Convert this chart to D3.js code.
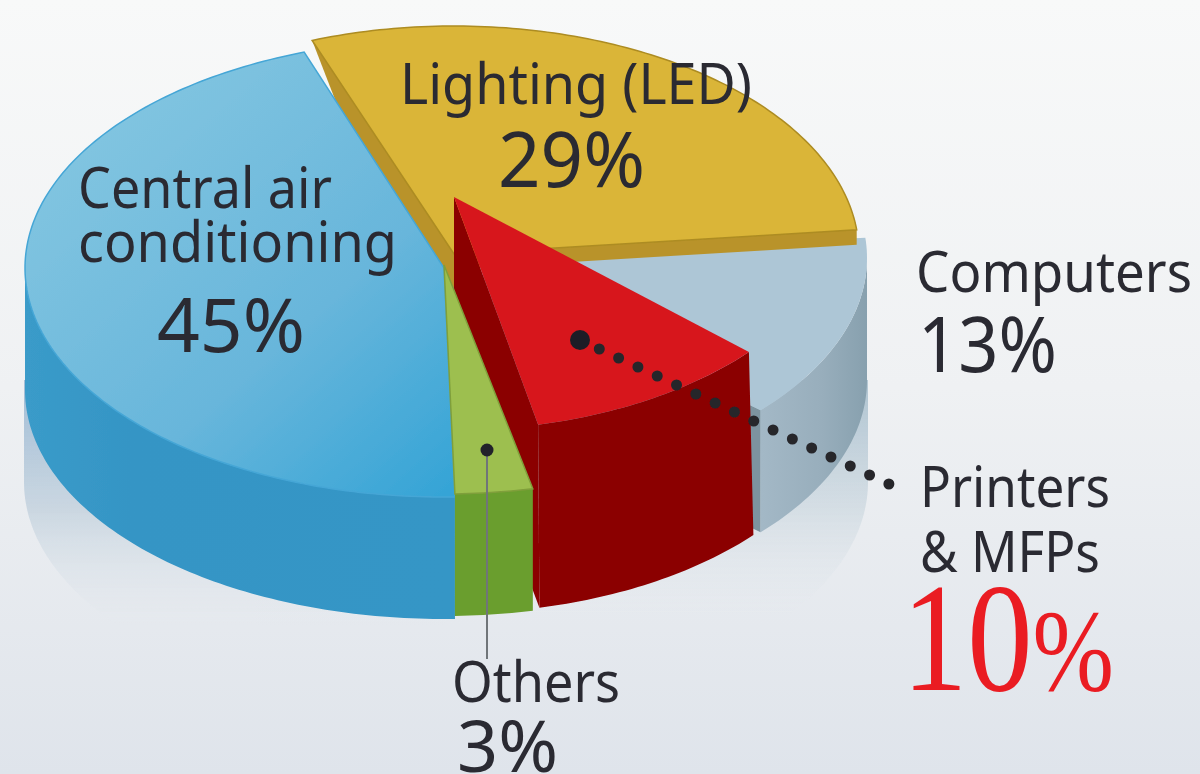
<!DOCTYPE html>
<html>
<head>
<meta charset="utf-8">
<script src="https://cdn.jsdelivr.net/npm/d3@7"></script>
<style>
html, body { margin: 0; padding: 0; background: #eef0f3; overflow: hidden; }
svg { display: block; }
text { font-family: "Noto Sans", sans-serif; fill: #2b2b33; }
</style>
</head>
<body>
<svg id="vis" width="1200" height="774"></svg>
<script>
// values, clockwise from the cut at the back
var categories = ['Lighting (LED)', 'Computers', 'Printers & MFPs', 'Others', 'Central air conditioning'];
var shares = [29, 13, 10, 3, 45];
var labelLines = [['Lighting (LED)'], ['Computers'], ['Printers', '& MFPs'], ['Others'], ['Central air', 'conditioning']];

var width = 1200, height = 774;
var startDeg = -19.5;

// each wedge was pulled about by hand in the original, so each one has its own ellipse
var wedges = {
    'Lighting (LED)':           {cx: 454, cy: 254, rx: 405, ry: 228, h: 15,  rot: -1,  top: '#dab537', wall: '#b9932b', edge: '#ad8c22'},
    'Computers':                {cx: 447, cy: 258, rx: 420, ry: 229, h: 122, rot: 0,   top: '#adc6d6', wall: 'url(#compWall)', edge: 'none'},
    'Printers & MFPs':          {cx: 454, cy: 197, rx: 395, ry: 233, rxb: 401, h: 183, rot: 0,   top: '#d7171f', wall: '#8b0000', edge: 'none'},
    'Others':                   {cx: 444, cy: 265, rx: 417, ry: 229, h: 122, rot: 0,   top: '#9dbf4f', wall: '#6a9e2e', edge: '#7f9f3a'},
    'Central air conditioning': {cx: 444, cy: 268, rx: 419, ry: 229, h: 122, rot: 0,   top: 'url(#blueTop)', wall: 'url(#blueWall)', edge: '#45a6d6'}
};

var labelStyle = {
    'Lighting (LED)':           {lines: [[400, 104, 56, 352]], pct: [498, 187, 76, 147]},
    'Computers':                {lines: [[916, 292, 56, 276]], pct: [918, 372, 76, 139]},
    'Printers & MFPs':          {lines: [[920, 507, 56, 190], [920, 572, 56, 180]]},
    'Others':                   {lines: [[452, 702, 56, 168]], pct: [457, 772, 72, 101]},
    'Central air conditioning': {lines: [[78, 208, 56, 254], [78, 262, 56, 319]], pct: [157, 352, 74, 148]}
};

var svg = d3.select('#vis');
var defs = svg.append('defs');

function gradient(id, x1, y1, x2, y2, stops) {
    var g = defs.append('linearGradient').attr('id', id)
        .attr('gradientUnits', 'userSpaceOnUse')
        .attr('x1', x1).attr('y1', y1).attr('x2', x2).attr('y2', y2);
    stops.forEach(function (s) {
        g.append('stop').attr('offset', s[0]).attr('stop-color', s[1]).attr('stop-opacity', s[2] === undefined ? 1 : s[2]);
    });
}

gradient('bg', 0, 0, 0, 774, [[0, '#f8f9f9'], [0.5, '#eff1f3'], [1, '#dfe4eb']]);
gradient('blueTop', 120, 120, 450, 490, [[0, '#80c4e0'], [0.55, '#68b6db'], [1, '#35a4d6']]);
gradient('blueWall', 25, 0, 450, 0, [[0, '#3a9bc9'], [0.25, '#3595c5'], [1, '#3596c6']]);
gradient('compWall', 752, 0, 868, 0, [[0, '#7d939f'], [0.08, '#a3b8c6'], [0.6, '#98aebc'], [1, '#87a0ae']]);
gradient('reflect', 0, 400, 0, 625, [[0, '#a6c0d7', 1], [0.5, '#c8d5e0', 0.9], [1, '#dfe5eb', 0]]);
gradient('reflectR', 0, 400, 0, 615, [[0, '#b5c8d4', 1], [0.5, '#d2dce3', 0.9], [1, '#e3e8ed', 0]]);

var soften = defs.append('filter').attr('id', 'soften')
    .attr('x', 0).attr('y', 0).attr('width', 1).attr('height', 1)
    .attr('filterUnits', 'objectBoundingBox');
soften.append('feGaussianBlur').attr('stdDeviation', 0.7);

svg.append('rect').attr('width', width).attr('height', height).attr('fill', 'url(#bg)');

var root = svg.append('g').attr('filter', 'url(#soften)');
root.append('rect').attr('width', width).attr('height', height).attr('fill', 'none');

var rad = Math.PI / 180;
var pie = d3.pie().sort(null).value(function (d) { return d.share; })
    .startAngle(startDeg * rad).endAngle((startDeg + 360) * rad);

var slices = pie(categories.map(function (c, i) { return {name: c, share: shares[i]}; }));
var byName = {};
slices.forEach(function (s) { byName[s.data.name] = s; });

var line = d3.line();

function rimPoint(w, a, drop) {
    var t = a + w.rot * rad;
    var r = drop && w.rxb ? w.rxb : w.rx;   //base can flare out a little
    return [w.cx + r * Math.sin(t), w.cy - w.ry * Math.cos(t) + (drop || 0)];
}

function rim(w, a0, a1, drop) {
    var n = Math.max(2, Math.ceil(Math.abs(a1 - a0) / (1 * rad)));
    var a = d3.scaleLinear().domain([0, n]).range([a0, a1]);
    return d3.range(n + 1).map(function (i) { return rimPoint(w, a(i), drop); });
}

function drawWedge(name) {
    var s = byName[name], w = wedges[name];
    var g = root.append('g').attr('class', 'wedge');
    var apex = [w.cx, w.cy];

    if (name === 'Computers') {
        //dark cut face, mostly behind the red wedge
        var c3 = rimPoint(w, s.endAngle, 0);
        g.append('path')
            .attr('d', line([c3, apex, [apex[0], apex[1] + w.h], [c3[0], c3[1] + w.h]]) + 'Z')
            .attr('fill', '#7d939f');
    }

    // front wall, only the part of the rim that faces the viewer
    var a0 = Math.max(s.startAngle, 90 * rad), a1 = Math.min(s.endAngle, 270 * rad);
    if (a1 > a0) {
        g.append('path')
            .attr('d', line(rim(w, a0, a1, 0).concat(rim(w, a1, a0, w.h))) + 'Z')
            .attr('fill', w.wall);
    }

    // wall along the cut that shows on the start or end side of the wedge
    if (name === 'Lighting (LED)') {
        var c0 = rimPoint(w, s.startAngle, 0), c1 = rimPoint(w, s.endAngle, 0);
        g.append('path')
            .attr('d', line([c0, apex, [apex[0], apex[1] + 34], [c0[0] + 24, c0[1] + 62]]) + 'Z')
            .attr('fill', w.wall);
        g.append('path')
            .attr('d', line([c1, apex, [apex[0], apex[1] + w.h], [c1[0], c1[1] + w.h]]) + 'Z')
            .attr('fill', w.wall);
    }
    if (name === 'Printers & MFPs') {
        var c2 = rimPoint(w, s.endAngle, 0);
        g.append('path')
            .attr('d', line([apex, c2, rimPoint(w, s.endAngle, w.h), [apex[0], apex[1] + w.h]]) + 'Z')
            .attr('fill', w.wall);
    }

    g.append('path')
        .attr('d', line([apex].concat(rim(w, s.startAngle, s.endAngle, 0))) + 'Z')
        .attr('fill', w.top)
        .attr('stroke', w.edge)
        .attr('stroke-width', w.edge === 'none' ? 0 : 1.5);
}

// faded mirror of the disc under the pie
function drawReflection() {
    var r = {cx: 446, cy: 482, rx: 422, ry: 228, rot: 0};
    root.append('path')
        .attr('d', line([[24, 380]].concat(rim(r, 270 * rad, 180 * rad, 0)).concat([[446, 380]])) + 'Z')
        .attr('fill', 'url(#reflect)');
    root.append('path')
        .attr('d', line([[446, 380]].concat(rim(r, 180 * rad, 90 * rad, 0)).concat([[868, 380]])) + 'Z')
        .attr('fill', 'url(#reflectR)');
}

drawReflection();
['Computers', 'Lighting (LED)', 'Central air conditioning', 'Printers & MFPs', 'Others'].forEach(drawWedge);

// leaders
root.append('line')
    .attr('x1', 487).attr('y1', 450).attr('x2', 487).attr('y2', 659)
    .attr('stroke', '#6f7479').attr('stroke-width', 2);
root.append('circle').attr('cx', 487).attr('cy', 450).attr('r', 6.5).attr('fill', '#23232b');

root.append('line')
    .attr('x1', 580).attr('y1', 340).attr('x2', 891).attr('y2', 485)
    .attr('stroke', '#26262c').attr('stroke-width', 11)
    .attr('stroke-linecap', 'round').attr('stroke-dasharray', '0 21.3');
root.append('circle').attr('cx', 580).attr('cy', 340).attr('r', 10).attr('fill', '#1f1f25');

function putText(str, p) {
    return root.append('text')
        .attr('x', p[0]).attr('y', p[1])
        .attr('font-size', p[2])
        .attr('textLength', p[3])
        .attr('lengthAdjust', 'spacingAndGlyphs')
        .text(str);
}

categories.forEach(function (name, i) {
    var st = labelStyle[name];
    labelLines[i].forEach(function (txt, j) { putText(txt, st.lines[j]); });
    if (st.pct) putText(shares[i] + '%', st.pct);
});

// the highlighted share is set in a red serif
var hl = root.append('text')
    .attr('x', 902).attr('y', 690)
    .attr('textLength', 212)
    .attr('lengthAdjust', 'spacingAndGlyphs')
    .style('font-family', '"Liberation Serif", serif')
    .style('fill', '#ea1c24');
hl.append('tspan').attr('font-size', 155).text(shares[2]);
hl.append('tspan').attr('font-size', 116).text('%');
</script>
</body>
</html>
